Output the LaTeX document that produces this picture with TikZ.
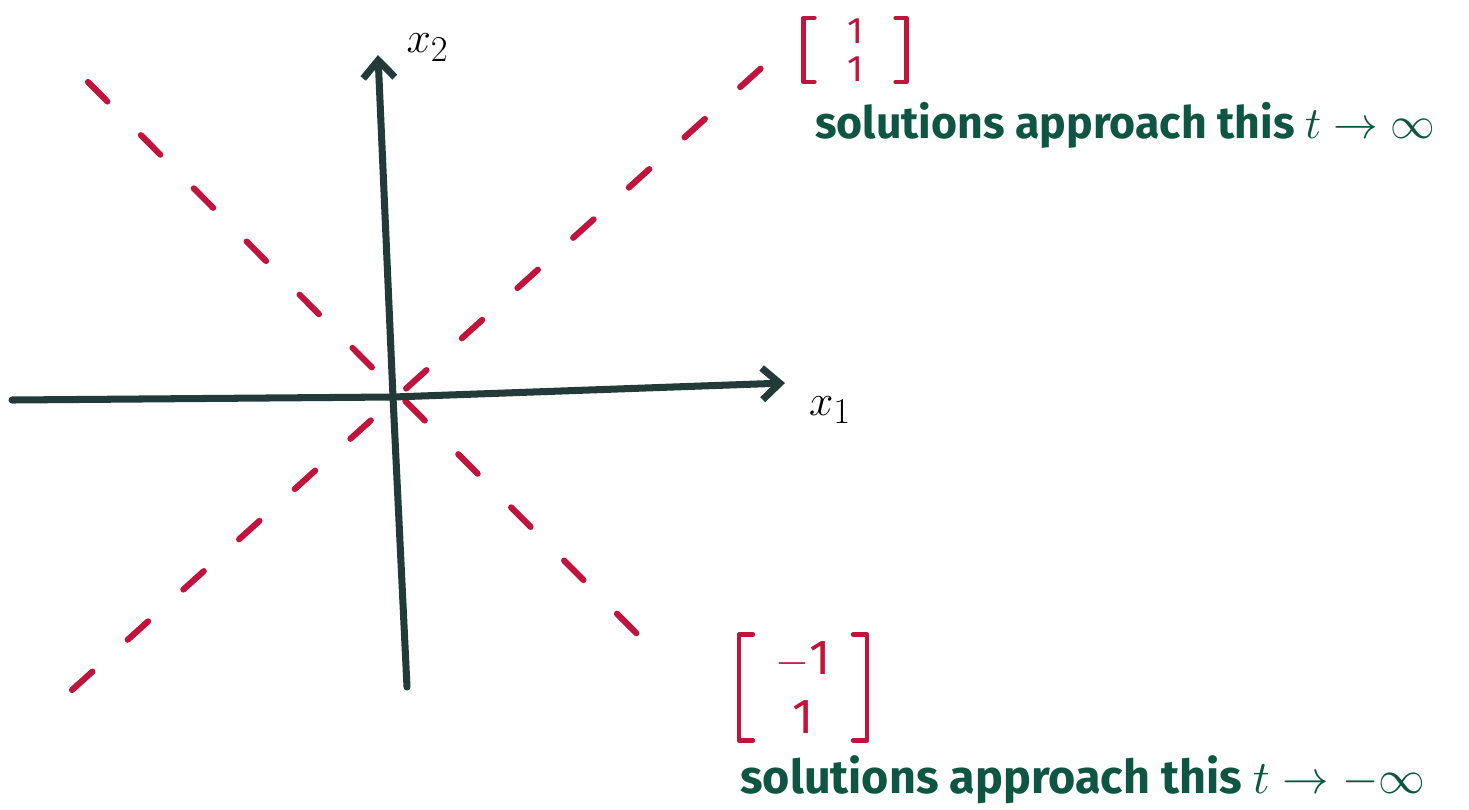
\documentclass[tikz,border=0pt]{standalone}
\usepackage{amsmath}
\usepackage{fontspec}
\setmainfont{Fira Sans}
\usetikzlibrary{arrows.meta}
\definecolor{axisc}{HTML}{223A38}
\definecolor{redc}{HTML}{C0143C}
\definecolor{greenc}{HTML}{0E5642}
\tikzset{
  axisline/.style={draw=axisc, line width=4pt, line cap=round},
  eigline/.style={draw=redc, line width=3.5pt, line cap=round, dash pattern=on 0.55cm off 0.95cm},
  vecnode/.style={text=redc, inner sep=0pt, align=center},
  bracket/.style={draw=redc, line width=2.6pt, line cap=round, line join=round},
  notenode/.style={text=greenc, inner sep=0pt, anchor=west, font=\bfseries},
  axlabel/.style={text=black, inner sep=0pt, font=\Huge\itshape}
}
\begin{document}
\begin{tikzpicture}
\useasboundingbox (0,0) rectangle (29.38,-16.18);
\coordinate (o) at (7.86,-7.94);
\coordinate (xl) at (0.24,-8.00);
\coordinate (xr) at (15.70,-7.66);
\coordinate (yb) at (8.14,-13.74);
\coordinate (yt) at (7.56,-1.10);
\coordinate (r1a) at (1.44,-13.80);
\coordinate (r1b) at (15.36,-1.24);
\coordinate (r2a) at (1.76,-1.64);
\coordinate (r2b) at (13.30,-13.24);
\path[eigline] (r1a) -- (r1b);
\path[eigline] (r2a) -- (r2b);
\path[axisline, -{Straight Barb[length=10pt,width=18pt]}] (xl) -- (o) -- (xr);
\path[axisline, -{Straight Barb[length=10pt,width=18pt]}] (yb) -- (o) -- (yt);
\node[axlabel] (lx2) at (8.55,-0.95) {$x_2$};
\node[axlabel] (lx1) at (16.6,-8.2) {$x_1$};
% vector (1,1)
\node[vecnode, minimum width=2.05cm, minimum height=1.2cm, font=\fontsize{21}{22}\selectfont] (v1) at (17.1,-1.0) {1\\1};
\path[bracket] ([xshift=0.22cm]v1.north west) -- (v1.north west) -- (v1.south west) -- ([xshift=0.22cm]v1.south west);
\path[bracket] ([xshift=-0.22cm]v1.north east) -- (v1.north east) -- (v1.south east) -- ([xshift=-0.22cm]v1.south east);
% vector (-1,1)
\node[vecnode, minimum width=2.55cm, minimum height=2.1cm, font=\fontsize{28}{34}\selectfont] (v2) at (16.06,-13.75) {$-$1\\1};
\path[bracket] ([xshift=0.28cm]v2.north west) -- (v2.north west) -- (v2.south west) -- ([xshift=0.28cm]v2.south west);
\path[bracket] ([xshift=-0.28cm]v2.north east) -- (v2.north east) -- (v2.south east) -- ([xshift=-0.28cm]v2.south east);
\node[notenode] (t1) at (16.3,-2.5) {\resizebox{12.4cm}{!}{solutions approach this $t\to\infty$}};
\node[notenode] (t2) at (14.8,-15.6) {\resizebox{13.7cm}{!}{solutions approach this $t\to-\infty$}};
\end{tikzpicture}
\end{document}
